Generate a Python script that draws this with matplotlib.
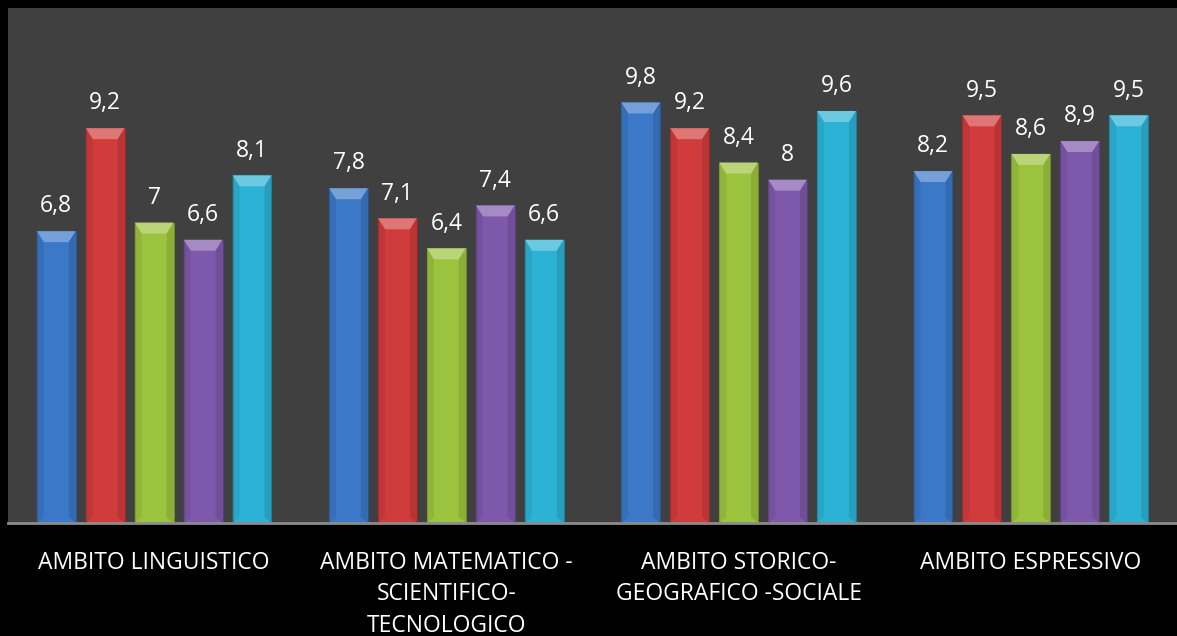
import matplotlib
matplotlib.use("Agg")
import matplotlib.pyplot as plt
from matplotlib.patches import Polygon
import matplotlib.colors as mcolors
import numpy as np

categories = ["AMBITO LINGUISTICO", "AMBITO MATEMATICO -\nSCIENTIFICO-\nTECNOLOGICO",
              "AMBITO STORICO-\nGEOGRAFICO -SOCIALE", "AMBITO ESPRESSIVO"]
series = [
    [6.8, 7.8, 9.8, 8.2],
    [9.2, 7.1, 9.2, 9.5],
    [7.0, 6.4, 8.4, 8.6],
    [6.6, 7.4, 8.0, 8.9],
    [8.1, 6.6, 9.6, 9.5],
]
value_labels = [
    ["6,8", "7,8", "9,8", "8,2"],
    ["9,2", "7,1", "9,2", "9,5"],
    ["7", "6,4", "8,4", "8,6"],
    ["6,6", "7,4", "8", "8,9"],
    ["8,1", "6,6", "9,6", "9,5"],
]
colors = ["#3B78C8", "#D03B3B", "#9CC33E", "#7E58AB", "#2CB2D5"]

W, H = 1177, 636
fig = plt.figure(figsize=(W / 100, H / 100), dpi=100, facecolor="black")
ax = fig.add_axes([8 / W, (H - 523) / H, (1177 - 8) / W, (523 - 8) / H])
ax.set_facecolor("#404040")
ax.set_xlim(-0.5, 3.5)
ax.set_ylim(0, 12)

x = np.arange(len(categories))
pitch = 0.1675
bw = 0.133
pxx = 4.0 / (1177 - 8)
pxy = 12.0 / (523 - 8)
FONT = ["Open Sans", "DejaVu Sans"]

def blend(c, t, amt):
    a = np.array(mcolors.to_rgb(c)); b = np.array(mcolors.to_rgb(t))
    return tuple(a * (1 - amt) + b * amt)

for i, (vals, col, labs) in enumerate(zip(series, colors, value_labels)):
    xs = x + (i - 2) * pitch
    bars = ax.bar(xs, vals, width=bw, color=col, edgecolor=blend(col, "black", 0.3),
                  linewidth=0.8, zorder=2)
    for b, lab in zip(bars, labs):
        x0, y0 = b.get_x(), b.get_y()
        w, h = b.get_width(), b.get_height()
        ix, iy = 7 * pxx, 11 * pxy
        top = Polygon([(x0, y0 + h), (x0 + w, y0 + h), (x0 + w - ix, y0 + h - iy),
                       (x0 + ix, y0 + h - iy)], closed=True,
                      facecolor=blend(col, "white", 0.3), edgecolor="none", zorder=3)
        ax.add_patch(top)
        left = Polygon([(x0, y0 + h), (x0 + ix, y0 + h - iy), (x0 + ix, y0 + 6 * pxy),
                        (x0, y0)], closed=True,
                       facecolor=blend(col, "black", 0.12), edgecolor="none", zorder=3, alpha=0.6)
        right = Polygon([(x0 + w, y0 + h), (x0 + w - ix, y0 + h - iy), (x0 + w - ix, y0 + 6 * pxy),
                         (x0 + w, y0)], closed=True,
                        facecolor=blend(col, "black", 0.18), edgecolor="none", zorder=3, alpha=0.6)
        ax.add_patch(left); ax.add_patch(right)
        ax.annotate(lab, (x0 + w / 2, y0 + h), xytext=(0, 13.5), textcoords="offset points",
                    ha="center", va="baseline", color="white", fontsize=16.5, family=FONT)

for s in ["top", "right", "left"]:
    ax.spines[s].set_visible(False)
ax.spines["bottom"].set_color("#8C8C8C")
ax.spines["bottom"].set_linewidth(2)
ax.set_yticks([])
ax.set_xticks(x)
ax.set_xticklabels(categories, color="white", fontsize=16.5, family=FONT,
                   linespacing=1.42, va="top")
ax.tick_params(axis="x", length=0, pad=20)

fig.savefig("out.png", dpi=100, facecolor="black")
